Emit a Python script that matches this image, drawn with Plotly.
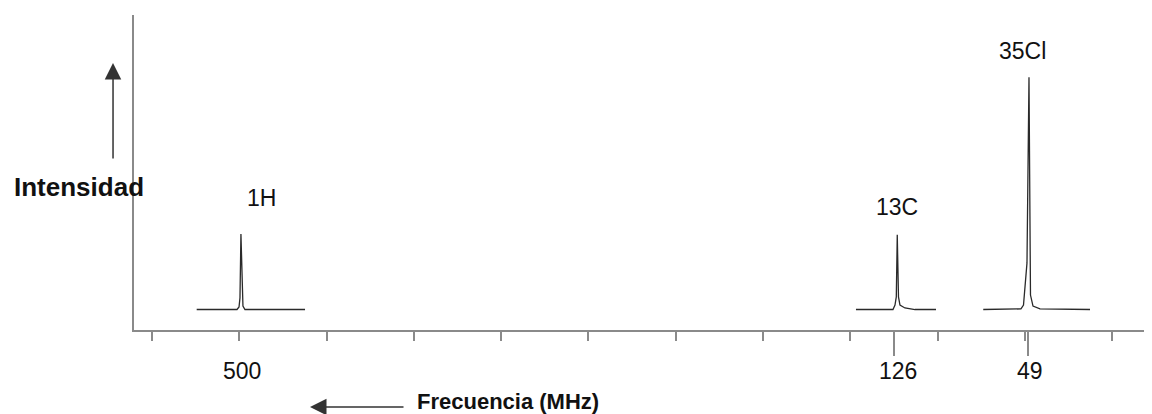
import plotly.graph_objects as go

# ---- data (x in axis units: one minor tick step = 1; y = intensity 0-100) ----
tick_positions = [0, 1, 2, 3, 4, 5, 6, 7, 8, 9, 10, 11]
label_ticks = [8.5, 10.04]            # long ticks under 126 and 49
freq_labels = ["500", "126", "49"]
freq_label_x = [1.03, 8.55, 10.06]

h1_x = [0.512, 0.974, 0.997, 1.008, 1.019, 1.031, 1.042, 1.065, 1.753]
h1_y = [6.5, 6.5, 7.3, 10.2, 30.5, 12.7, 7.6, 6.5, 6.5]

c13_x = [8.064, 8.488, 8.511, 8.526, 8.537, 8.551, 8.568, 8.625, 8.740, 8.981]
c13_y = [6.5, 6.5, 7.9, 10.5, 30.2, 10.5, 7.9, 7.0, 6.5, 6.5]

cl35_x = [9.522, 9.954, 9.983, 10.006, 10.023, 10.046, 10.063, 10.092, 10.172, 10.745]
cl35_y = [6.5, 6.7, 7.9, 14.3, 21.3, 80.2, 11.1, 7.6, 6.7, 6.5]

nuclei = ["1H", "13C", "35Cl"]
nuclei_x = [1.254, 8.53, 9.977]
nuclei_y = [41.8, 38.9, 88.5]

FONT = "Liberation Sans, Arial, Helvetica, sans-serif"
AXIS_COL = "#8a8a8a"
LINE_COL = "#2a2a2a"

fig = go.Figure()
for xs, ys in [(h1_x, h1_y), (c13_x, c13_y), (cl35_x, cl35_y)]:
    fig.add_trace(go.Scatter(x=xs, y=ys, mode="lines",
                             line=dict(color=LINE_COL, width=1.3),
                             showlegend=False, hoverinfo="skip"))

# invisible trace on the overlay axis so it renders
fig.add_trace(go.Scatter(x=[label_ticks[0]], y=[0], xaxis="x2", mode="markers",
                         marker=dict(opacity=0), showlegend=False, hoverinfo="skip"))

x_range = [-0.206, 11.455]

fig.update_layout(
    width=1144, height=406,
    margin=dict(l=126, r=0, t=7, b=84),
    paper_bgcolor="white", plot_bgcolor="white",
    font=dict(family=FONT, color="#111"),
    xaxis=dict(range=x_range, showgrid=False, zeroline=False,
               showline=True, linecolor=AXIS_COL, linewidth=1.5,
               tickmode="array", tickvals=tick_positions, ticks="outside",
               ticklen=9, tickwidth=1.5, tickcolor=AXIS_COL,
               showticklabels=False, fixedrange=True),
    xaxis2=dict(range=x_range, overlaying="x", anchor="y", side="bottom",
                showgrid=False, zeroline=False, showline=False,
                tickmode="array", tickvals=label_ticks, ticks="outside",
                ticklen=25, tickwidth=1.5, tickcolor=AXIS_COL,
                showticklabels=False),
    yaxis=dict(range=[0, 100], showgrid=False, zeroline=False,
               showline=True, linecolor=AXIS_COL, linewidth=1.5,
               ticks="", showticklabels=False, fixedrange=True),
)

# frequency tick labels
for lab, xv in zip(freq_labels, freq_label_x):
    fig.add_annotation(text=lab, x=xv, xref="x", y=-0.13, yref="paper",
                       showarrow=False, xanchor="center", yanchor="middle",
                       font=dict(size=23, family=FONT, color="#111"))

# nucleus labels
for lab, xv, yv in zip(nuclei, nuclei_x, nuclei_y):
    fig.add_annotation(text=lab, x=xv, xref="x", y=yv, yref="y",
                       showarrow=False, xanchor="center", yanchor="middle",
                       font=dict(size=23, family=FONT, color="#111"))

# axis titles
fig.add_annotation(text="<b>Intensidad</b>", x=-0.054, xref="paper", y=0.4524, yref="paper",
                   showarrow=False, xanchor="center", yanchor="middle",
                   font=dict(size=26, family=FONT, color="#111"))
fig.add_annotation(text="<b>Frecuencia (MHz)</b>", x=0.276, xref="paper", y=-0.2254, yref="paper",
                   showarrow=False, xanchor="left", yanchor="middle",
                   font=dict(size=22, family=FONT, color="#111"))

# arrows
fig.add_annotation(text="", x=-0.0206, xref="paper", y=0.8476, yref="paper",
                   ax=0, ay=97, showarrow=True, arrowhead=2, arrowsize=2.2,
                   arrowwidth=1.5, arrowcolor="#333")
fig.add_annotation(text="", x=0.1729, xref="paper", y=-0.2444, yref="paper",
                   ax=95, ay=0, showarrow=True, arrowhead=2, arrowsize=2.2,
                   arrowwidth=1.5, arrowcolor="#333")

fig.write_html("out.html")
